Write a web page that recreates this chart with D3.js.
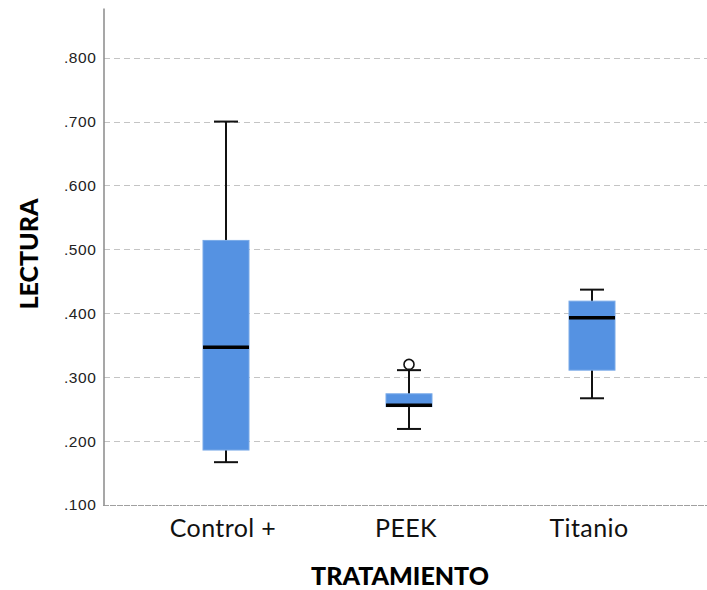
<!DOCTYPE html>
<html>
<head>
<meta charset="utf-8">
<script src="https://cdn.jsdelivr.net/npm/d3@7"></script>
<style>
  html, body { margin: 0; padding: 0; background: #fff; }
  svg { display: block; }
</style>
</head>
<body>
<svg id="chart" width="707" height="590"></svg>
<script>
// Box plot of LECTURA by TRATAMIENTO
const categories = ["Control +", "PEEK", "Titanio"];
const whiskerLow  = [0.167, 0.219, 0.267];
const q1          = [0.186, 0.254, 0.311];
const median      = [0.347, 0.256, 0.393];
const q3          = [0.514, 0.274, 0.419];
const whiskerHigh = [0.700, 0.311, 0.437];
const outliers    = [[], [0.320], []];
const yTicks = [0.1, 0.2, 0.3, 0.4, 0.5, 0.6, 0.7, 0.8];

const svg = d3.select("#chart");
const W = 707, H = 590;
const plotLeft = 103, plotBottom = 505, plotTop = 8;

const y = d3.scaleLinear().domain([0.1, 0.8777]).range([plotBottom, plotTop]);
const x = d3.scalePoint().domain(categories).range([226, 592]);

const boxW = 46, capW = 24;

// gridlines
svg.append("g").selectAll("line")
  .data(yTicks.filter(t => t > 0.1))
  .join("line")
  .attr("x1", plotLeft + 1).attr("x2", W)
  .attr("y1", d => Math.round(y(d)) + 0.5).attr("y2", d => Math.round(y(d)) + 0.5)
  .attr("stroke", "#c4c4c4").attr("stroke-width", 1.2)
  .attr("stroke-dasharray", "6,4");

// bottom line
svg.append("line")
  .attr("x1", plotLeft).attr("x2", W)
  .attr("y1", plotBottom + 0.5).attr("y2", plotBottom + 0.5)
  .attr("stroke", "#a0a0a0").attr("stroke-width", 1.2)
  .attr("stroke-dasharray", "6,1");

// y axis
const yAxis = d3.axisLeft(y).tickValues(yTicks).tickSize(0).tickPadding(7)
  .tickFormat(d => d3.format(".3f")(d).replace(/^0/, ""));
const ga = svg.append("g").attr("transform", `translate(${plotLeft + 0.5},0)`).call(yAxis);
ga.select(".domain").attr("stroke", "#8a8a8a").attr("stroke-width", 1.5);
ga.selectAll("text")
  .attr("font-family", "Liberation Sans, Arial, sans-serif")
  .attr("font-size", 15.5).attr("letter-spacing", 0.6).attr("fill", "#222");

// boxes
const data = categories.map((c, i) => ({
  c, lo: whiskerLow[i], q1: q1[i], med: median[i], q3: q3[i], hi: whiskerHigh[i], out: outliers[i]
}));

const g = svg.append("g").selectAll("g").data(data).join("g");

// whisker stems
g.append("line")
  .attr("x1", d => x(d.c)).attr("x2", d => x(d.c))
  .attr("y1", d => y(d.lo)).attr("y2", d => y(d.hi))
  .attr("stroke", "#111").attr("stroke-width", 2);
// caps
["lo", "hi"].forEach(k => {
  g.append("line")
    .attr("x1", d => x(d.c) - capW / 2).attr("x2", d => x(d.c) + capW / 2)
    .attr("y1", d => y(d[k])).attr("y2", d => y(d[k]))
    .attr("stroke", "#111").attr("stroke-width", 2);
});
// box
g.append("rect")
  .attr("x", d => x(d.c) - boxW / 2).attr("width", boxW)
  .attr("y", d => y(d.q3)).attr("height", d => y(d.q1) - y(d.q3))
  .attr("fill", "#5592e2").attr("stroke", "#7aaae8").attr("stroke-width", 1);
// median
g.append("line")
  .attr("x1", d => x(d.c) - boxW / 2).attr("x2", d => x(d.c) + boxW / 2)
  .attr("y1", d => y(d.med)).attr("y2", d => y(d.med))
  .attr("stroke", "#000").attr("stroke-width", 3.5);
// outliers
g.selectAll("circle").data(d => d.out.map(v => ({ c: d.c, v }))).join("circle")
  .attr("cx", d => x(d.c)).attr("cy", d => y(d.v)).attr("r", 5)
  .attr("fill", "#fff").attr("stroke", "#111").attr("stroke-width", 1.6);

// category labels
svg.append("g").selectAll("text").data(categories).join("text")
  .attr("x", d => x(d) - 3).attr("y", 537)
  .attr("text-anchor", "middle")
  .attr("font-family", "Lato, 'Noto Sans', sans-serif")
  .attr("font-size", 25).attr("letter-spacing", 0.4).attr("fill", "#111")
  .text(d => d);

// axis titles
svg.append("text")
  .attr("x", 400).attr("y", 585)
  .attr("text-anchor", "middle")
  .attr("font-family", "Lato, 'Noto Sans', sans-serif")
  .attr("font-weight", 900).attr("font-size", 25).attr("fill", "#000")
  .text("TRATAMIENTO");

svg.append("text")
  .attr("transform", "translate(38,254) rotate(-90)")
  .attr("text-anchor", "middle")
  .attr("font-family", "Lato, 'Noto Sans', sans-serif")
  .attr("font-weight", 900).attr("font-size", 25).attr("fill", "#000")
  .text("LECTURA");
</script>
</body>
</html>
